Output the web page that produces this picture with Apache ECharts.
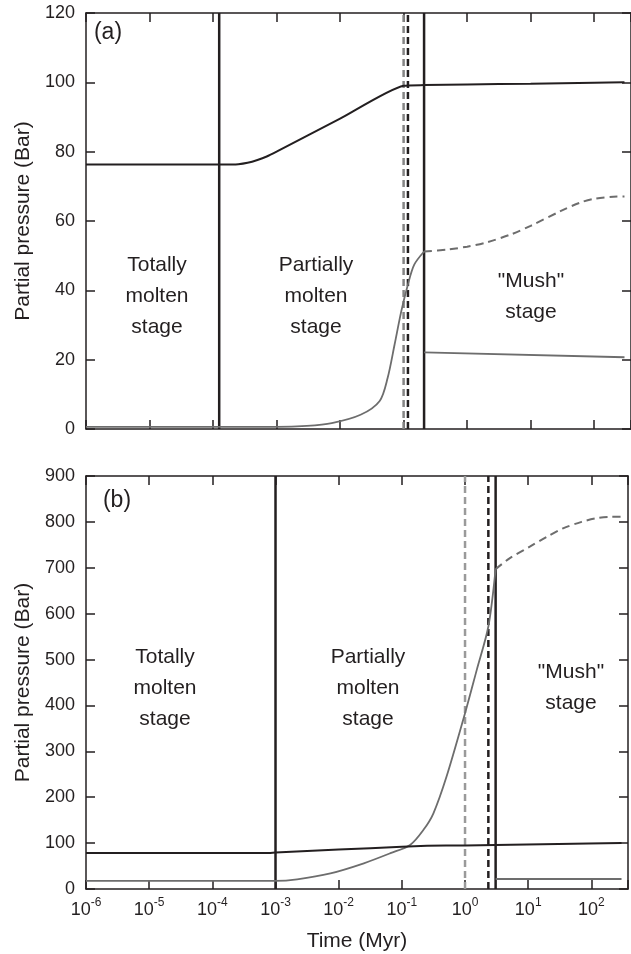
<!DOCTYPE html>
<html><head><meta charset="utf-8">
<script src="https://cdn.jsdelivr.net/npm/echarts@6/dist/echarts.min.js"></script>
<style>html,body{margin:0;padding:0;background:#fff;overflow:hidden}#c{width:631px;height:954px}</style>
</head><body><div id="c"></div>
<script>
// ---------- Panel (a) ----------
const aBlackT = [1e-6, 1.5e-4, 2.5e-4, 3.5e-4, 5e-4, 7e-4, 1e-3, 1e-2, 0.1, 0.21, 1, 10, 100, 300];
const aBlackP = [76.3, 76.3, 76.4, 76.8, 77.6, 78.6, 80, 89.5, 99, 99.2, 99.4, 99.6, 99.9, 100];
const aGrayT = [1e-6, 1e-3, 3e-3, 0.0074, 0.021, 0.042, 0.056, 0.072, 0.092, 0.117, 0.147, 0.21];
const aGrayP = [0.6, 0.6, 0.9, 1.7, 4.1, 8.1, 14.7, 24.3, 34, 41.7, 47.4, 51.2];
const aDashT = [0.21, 0.5, 1, 2, 5, 10, 30, 60, 100, 200, 300];
const aDashP = [51.2, 51.8, 52.6, 53.8, 56.2, 58.6, 62.9, 65.3, 66.4, 67, 67.1];
const aMushT = [0.21, 300];
const aMushP = [22.1, 20.7];
const aSolidV = [1.25e-4, 0.21];
const aBlackDashV = [0.117];
const aGrayDashV = [0.1];
// ---------- Panel (b) ----------
const bBlackT = [1e-6, 7e-4, 1e-3, 0.01, 0.1, 0.25, 1, 3, 30, 300];
const bBlackP = [78.4, 78.4, 79.5, 86, 92, 94, 95, 96, 98, 100];
const bGrayT = [1e-6, 1e-3, 0.0022, 0.0074, 0.025, 0.066, 0.135, 0.22, 0.316, 0.51, 1, 1.53, 2.34, 3.05];
const bGrayP = [17.5, 17.5, 21, 34, 56, 78, 96, 129, 165, 245, 383, 477, 572, 697];
const bDashT = [3.05, 5, 10.6, 20, 35.6, 70, 120, 200, 300];
const bDashP = [697, 720, 746, 768, 786, 800, 808, 811, 811];
const bMushT = [3.05, 300];
const bMushP = [21.6, 21.6];
const bSolidV = [1e-3, 3.05];
const bBlackDashV = [2.34];
const bGrayDashV = [1.0];
// ---------- axes ----------
const xMin = 1e-6, xMax = 380;
const aYMax = 120, aYStep = 20;
const bYMax = 900, bYStep = 100;

const INK = '#231f20', GRAY = '#6d6d6d', LGRAY = '#9a9a9a';
const FONT = 'Liberation Sans';
const pairs = (t, p) => t.map((v, i) => [v, p[i]]);

function xAxisCfg(grid, pos, labels) {
  return {
    type: 'log', logBase: 10, min: xMin, max: xMax, interval: 1, gridIndex: grid, position: pos,
    axisLine: { show: true, onZero: false, lineStyle: { color: INK, width: 1.5 } },
    axisTick: { show: true, inside: true, length: 9, lineStyle: { color: INK, width: 1.5 } },
    splitLine: { show: false }, minorTick: { show: false },
    axisLabel: {
      show: labels, margin: 8, color: INK, fontFamily: FONT,
      formatter: v => {
        const e = Math.log10(v), r = Math.round(e);
        if (Math.abs(e - r) > 1e-6) return '';
        return '{b|10}{s|' + r + '}';
      },
      rich: {
        b: { fontSize: 18, fontFamily: FONT, color: INK, lineHeight: 22, verticalAlign: 'bottom' },
        s: { fontSize: 12, fontFamily: FONT, color: INK, lineHeight: 12, verticalAlign: 'top' }
      }
    },
    name: (grid === 1 && labels) ? 'Time (Myr)' : '',
    nameLocation: 'middle', nameGap: 42,
    nameTextStyle: { fontSize: 21, fontFamily: FONT, color: INK }
  };
}
function yAxisCfg(grid, pos, max, step, labels) {
  return {
    type: 'value', min: 0, max: max, interval: step, gridIndex: grid, position: pos,
    axisLine: { show: true, onZero: false, lineStyle: { color: INK, width: 1.5 } },
    axisTick: { show: true, inside: true, length: 9, lineStyle: { color: INK, width: 1.5 } },
    splitLine: { show: false },
    axisLabel: { show: labels, margin: 11, fontSize: 18, fontFamily: FONT, color: INK },
    name: labels ? 'Partial pressure (Bar)' : '', nameLocation: 'middle', nameGap: 52,
    nameTextStyle: { fontSize: 21, fontFamily: FONT, color: INK }
  };
}
function line(x, y, data, color, width, type, smooth) {
  return {
    type: 'line', xAxisIndex: x, yAxisIndex: y, data: data, showSymbol: false, symbol: 'none',
    smooth: smooth, silent: true, animation: false, clip: true,
    lineStyle: { color: color, width: width, type: type }
  };
}
function vlines(x, y, vals, yMax, color, type, width) {
  return vals.map(v => line(x, y, [[v, 0], [v, yMax]], color, width, type, false));
}
const dashV = [7, 4];
const chart = echarts.init(document.getElementById('c'), null, { renderer: 'canvas' });
chart.setOption({
  animation: false,
  backgroundColor: '#fff',
  textStyle: { fontFamily: FONT },
  grid: [
    { left: 86, right: -1, top: 13, height: 416 },
    { left: 86, right: -1, top: 476, height: 413 }
  ],
  xAxis: [xAxisCfg(0, 'bottom', false), xAxisCfg(0, 'top', false), xAxisCfg(1, 'bottom', true), xAxisCfg(1, 'top', false)],
  yAxis: [yAxisCfg(0, 'left', aYMax, aYStep, true), yAxisCfg(0, 'right', aYMax, aYStep, false),
          yAxisCfg(1, 'left', bYMax, bYStep, true), yAxisCfg(1, 'right', bYMax, bYStep, false)],
  series: [].concat(
    vlines(0, 0, aGrayDashV, aYMax, '#858585', dashV, 2.5),
    vlines(0, 0, aBlackDashV, aYMax, INK, dashV, 2.5),
    vlines(0, 0, aSolidV, aYMax, INK, 'solid', 2.5),
    [
      line(0, 0, pairs(aGrayT, aGrayP), GRAY, 1.8, 'solid', 0.3),
      line(0, 0, pairs(aDashT, aDashP), GRAY, 2, [8, 5], 0.3),
      line(0, 0, pairs(aMushT, aMushP), GRAY, 1.8, 'solid', false),
      line(0, 0, pairs(aBlackT, aBlackP), INK, 2, 'solid', 0.2)
    ],
    vlines(2, 2, bGrayDashV, bYMax, LGRAY, dashV, 2.5),
    vlines(2, 2, bBlackDashV, bYMax, INK, dashV, 2.5),
    vlines(2, 2, bSolidV, bYMax, INK, 'solid', 2.5),
    [
      line(2, 2, pairs(bGrayT, bGrayP), GRAY, 1.8, 'solid', 0.3),
      line(2, 2, pairs(bDashT, bDashP), GRAY, 2, [8, 5], 0.3),
      line(2, 2, pairs(bMushT, bMushP), GRAY, 2, 'solid', false),
      line(2, 2, pairs(bBlackT, bBlackP), INK, 2, 'solid', 0.2)
    ]
  ),
  graphic: [
    { type: 'text', x: 108, y: 33, style: { text: '(a)', fontSize: 23, fontFamily: FONT, fill: INK, align: 'center', verticalAlign: 'middle' } },
    { type: 'text', x: 117, y: 501, style: { text: '(b)', fontSize: 23, fontFamily: FONT, fill: INK, align: 'center', verticalAlign: 'middle' } },
    { type: 'text', x: 157, y: 296, style: { text: 'Totally\nmolten\nstage', fontSize: 21, lineHeight: 31, fontFamily: FONT, fill: INK, align: 'center', verticalAlign: 'middle' } },
    { type: 'text', x: 316, y: 296, style: { text: 'Partially\nmolten\nstage', fontSize: 21, lineHeight: 31, fontFamily: FONT, fill: INK, align: 'center', verticalAlign: 'middle' } },
    { type: 'text', x: 531, y: 297, style: { text: '"Mush"\nstage', fontSize: 21, lineHeight: 31, fontFamily: FONT, fill: INK, align: 'center', verticalAlign: 'middle' } },
    { type: 'text', x: 165, y: 688, style: { text: 'Totally\nmolten\nstage', fontSize: 21, lineHeight: 31, fontFamily: FONT, fill: INK, align: 'center', verticalAlign: 'middle' } },
    { type: 'text', x: 368, y: 688, style: { text: 'Partially\nmolten\nstage', fontSize: 21, lineHeight: 31, fontFamily: FONT, fill: INK, align: 'center', verticalAlign: 'middle' } },
    { type: 'text', x: 571, y: 688, style: { text: '"Mush"\nstage', fontSize: 21, lineHeight: 31, fontFamily: FONT, fill: INK, align: 'center', verticalAlign: 'middle' } }
  ]
});
</script></body></html>
